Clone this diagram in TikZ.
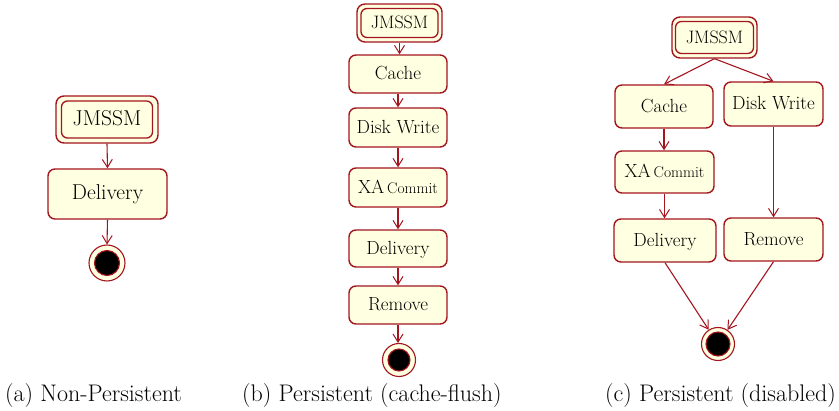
\documentclass[tikz,border=0pt]{standalone}
\usetikzlibrary{arrows.meta}
\definecolor{actred}{RGB}{163,21,31}
\definecolor{actfill}{RGB}{255,255,225}
\tikzset{
  act/.style={draw=actred, fill=actfill, line width=1.4pt, rounded corners=7pt,
    inner sep=0pt, text height=0.66em+5pt, text depth=0pt},
  startouter/.style={act, rounded corners=8pt},
  startinner/.style={draw=actred, line width=1.3pt, rounded corners=6pt, inner sep=0pt,
    text height=0.66em+5pt, text depth=0pt},
  endouter/.style={circle, draw=actred, fill=actfill, line width=1.1pt, inner sep=0pt},
  endinner/.style={circle, draw=actred, fill=black, line width=1.1pt, inner sep=0pt},
  flow/.style={draw=actred, line width=1.1pt, -{Straight Barb[length=8pt,width=10pt,line width=1pt]}},
  caption/.style={anchor=base west, inner sep=0pt, font=\rmfamily\fontsize{24}{24}\selectfont},
  big/.style={font=\rmfamily\fontsize{21.5}{22}\selectfont},
  mid/.style={font=\rmfamily\fontsize{19}{20}\selectfont},
  small/.style={font=\rmfamily\fontsize{18}{18}\selectfont},
}
\newcommand{\xacommit}{XA\hspace{0.15em}{\fontsize{15.5}{16}\selectfont Commit}}
\begin{document}
\begin{tikzpicture}[x=1pt,y=-1pt]
\useasboundingbox (0,0) rectangle (839,411);

% ---------- (a) non-persistent ----------
\node[startouter, minimum width=102pt, minimum height=47pt] (aJo) at (107,119.5) {};
\node[startinner, minimum width=91pt, minimum height=37pt, big] (aJ) at (107,119.5) {JMSSM};
\node[act, big, minimum width=119pt, minimum height=50pt] (aD) at (107.5,194) {Delivery};
\node[endouter, minimum size=36pt] (aE) at (107,263) {};
\node[endinner, minimum size=25pt] at (aE) {};
\draw[flow] (aJo.south) -- (aD.north);
\draw[flow] (aD.south) -- (aE.north);

% ---------- (b) persistent, cache-flush ----------
\node[startouter, minimum width=85pt, minimum height=38pt] (bJo) at (399.5,23) {};
\node[startinner, minimum width=77pt, minimum height=29pt, small] (bJ) at (399.5,23) {JMSSM};
\node[act, mid, minimum width=98pt, minimum height=38pt] (bC) at (398,74) {Cache};
\node[act, mid, minimum width=98pt, minimum height=39pt] (bW) at (398,127.5) {Disk Write};
\node[act, mid, minimum width=98pt, minimum height=39pt] (bX) at (398,187.5) {\xacommit};
\node[act, mid, minimum width=98pt, minimum height=37pt] (bD) at (398,248.5) {Delivery};
\node[act, mid, minimum width=98pt, minimum height=38pt] (bR) at (398,305) {Remove};
\node[endouter, minimum size=33pt] (bE) at (399,360) {};
\node[endinner, minimum size=22pt] at (bE) {};
\draw[flow] (bJo.south) -- (bC.north -| bJo.south);
\draw[flow] (bC.south) -- (bW.north);
\draw[flow] (bW.south) -- (bX.north);
\draw[flow] (bX.south) -- (bD.north);
\draw[flow] (bD.south) -- (bR.north);
\draw[flow] (bR.south) -- (bE.north -| bR.south);

% ---------- (c) persistent, disabled ----------
\node[startouter, minimum width=85pt, minimum height=41pt] (cJo) at (714.5,37.5) {};
\node[startinner, minimum width=78pt, minimum height=32pt, small] (cJ) at (714.5,37.5) {JMSSM};
\node[act, mid, minimum width=98pt, minimum height=43pt] (cC) at (664,106.5) {Cache};
\node[act, mid, minimum width=99pt, minimum height=44pt] (cW) at (773.5,104) {Disk Write};
\node[act, mid, minimum width=99pt, minimum height=42pt] (cX) at (664.5,172) {\xacommit};
\node[act, mid, minimum width=102pt, minimum height=43pt] (cD) at (665,240.5) {Delivery};
\node[act, mid, minimum width=99pt, minimum height=43pt] (cR) at (773.5,239.5) {Remove};
\node[endouter, minimum size=33pt] (cE) at (718,344) {};
\node[endinner, minimum size=24pt] at (cE) {};
\draw[flow] (cJo.south) -- (cC.north);
\draw[flow] (cJo.south) -- (cW.north);
\draw[flow] (cC.south) -- (cX.north -| cC.south);
\draw[flow] (cW.south) -- (cR.north -| cW.south);
\draw[flow] (cX.south) -- (cD.north -| cX.south);
\draw[flow] (cD.south) -- (cE);
\draw[flow] (cR.south) -- (cE);

% ---------- captions ----------
\node[caption] (capa) at (5,402) {(a) Non-Persistent};
\node[caption] (capb) at (242,402) {(b) Persistent (cache-flush)};
\node[caption] (capc) at (605,402) {(c) Persistent (disabled)};
\end{tikzpicture}
\end{document}
